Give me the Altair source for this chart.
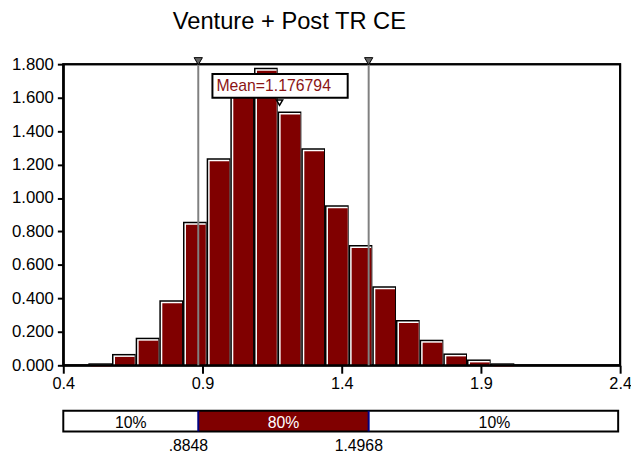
import altair as alt
import pandas as pd

# ---- data ----
bin_edges = [0.490, 0.575, 0.660, 0.745, 0.830, 0.915, 1.000, 1.085, 1.170, 1.255,
             1.340, 1.425, 1.510, 1.595, 1.680, 1.765, 1.850, 1.935, 2.020]
density = [0.012, 0.068, 0.165, 0.389, 0.858, 1.238, 1.66, 1.778, 1.517, 1.297,
           0.957, 0.719, 0.472, 0.271, 0.153, 0.071, 0.035, 0.012]
x_ticks = [0.4, 0.9, 1.4, 1.9, 2.4]
y_ticks = [0.0, 0.2, 0.4, 0.6, 0.8, 1.0, 1.2, 1.4, 1.6, 1.8]
pct_values = [0.8848, 1.4968]
pct_labels = [".8848", "1.4968"]
seg_bounds = [0.4, 0.8848, 1.4968, 2.4]
seg_labels = ["10%", "80%", "10%"]
seg_fill = ["white", "#800000", "white"]
seg_text = ["black", "white", "black"]
mean_value = 1.176794
mean_label = "Mean=1.176794"

FONT = "Liberation Sans"
RED = "#800000"

bars = pd.DataFrame({"lo": bin_edges[:-1], "hi": bin_edges[1:], "dens": density})
pct = pd.DataFrame({"pos": pct_values, "label": pct_labels})
segs = pd.DataFrame({
    "s0": seg_bounds[:-1], "s1": seg_bounds[1:],
    "mid": [(a + b) / 2 for a, b in zip(seg_bounds[:-1], seg_bounds[1:])],
    "label": seg_labels, "fill": seg_fill, "tcolor": seg_text,
})
mean_df = pd.DataFrame({"mean": [mean_value], "label": [mean_label]})
box_df = pd.DataFrame({"a": [seg_bounds[0]], "b": [seg_bounds[-1]]})

xscale = alt.Scale(domain=[0.4, 2.4], nice=False, zero=False)
yscale = alt.Scale(domain=[0, 1.8], nice=False)
xaxis = alt.Axis(values=x_ticks, format=".1f", title=None, grid=False,
                 domainColor="black", domainWidth=2, tickColor="black", tickWidth=2,
                 tickSize=8, labelPadding=3, labelFont=FONT, labelFontSize=16.5,
                 labelColor="black", labelFlush=False, labelOverlap=False)
yaxis = alt.Axis(values=y_ticks, format=".3f", title=None, grid=False,
                 domainColor="black", domainWidth=2, tickColor="black", tickWidth=2,
                 tickSize=6, labelPadding=4, labelFont=FONT, labelFontSize=17,
                 labelColor="black", labelOverlap=False)


def X(f):
    return alt.X(f, type="quantitative", scale=xscale, axis=xaxis)


def Y(f):
    return alt.Y(f, type="quantitative", scale=yscale, axis=yaxis)


def YD(v):
    return alt.Y(datum=v, type="quantitative", scale=yscale, axis=yaxis)


base_bars = alt.Chart(bars)
bar_black = base_bars.mark_rect(color="black").encode(
    x=X("lo"), x2="hi", y=Y("dens"), y2=alt.datum(0))
bar_white = base_bars.mark_rect(color="white", xOffset=1.5, x2Offset=-1, yOffset=1.5).encode(
    x=X("lo"), x2="hi", y=Y("dens"), y2=alt.datum(0))
bar_red = base_bars.mark_rect(color=RED, xOffset=3, x2Offset=-1, yOffset=3).encode(
    x=X("lo"), x2="hi", y=Y("dens"), y2=alt.datum(0))

frame = alt.Chart(box_df).mark_rect(fill=None, stroke="black", strokeWidth=2).encode(
    x=X("a"), x2="b", y=YD(1.8), y2=alt.datum(0))

pct_rules = alt.Chart(pct).mark_rule(color="#808080", strokeWidth=2).encode(
    x=X("pos"), y=YD(1.8), y2=alt.datum(0))
pct_tri = alt.Chart(pct).mark_point(shape="triangle-down", filled=True, fill="#666666",
                                    stroke="black", strokeWidth=1, size=70, opacity=1).encode(
    x=X("pos"), y=alt.value(-3))

mean_box = alt.Chart(mean_df).mark_rect(fill="white", stroke="black", strokeWidth=2,
                                        xOffset=-68, x2Offset=69).encode(
    x=X("mean"), x2="mean", y=alt.value(10), y2=alt.value(34))
mean_txt = alt.Chart(mean_df).mark_text(font=FONT, fontSize=16, color="#8B1414",
                                        dx=-6, align="center", baseline="middle").encode(
    x=X("mean"), y=alt.value(22), text="label")
mean_tri = alt.Chart(mean_df).mark_point(shape="triangle-down", filled=True, fill="white",
                                         stroke="black", strokeWidth=1.5, size=40, opacity=1).encode(
    x=X("mean"), y=alt.value(39))

seg_rect = alt.Chart(segs).mark_rect().encode(
    x=X("s0"), x2="s1", y=alt.value(351), y2=alt.value(372),
    fill=alt.Fill("fill:N", scale=None))
seg_box = alt.Chart(box_df).mark_rect(fill=None, stroke="black", strokeWidth=2, x2Offset=-2).encode(
    x=X("a"), x2="b", y=alt.value(351), y2=alt.value(372))
seg_div = alt.Chart(pct).mark_rule(color="#000080", strokeWidth=2).encode(
    x=X("pos"), y=alt.value(351), y2=alt.value(372))
seg_txt = alt.Chart(segs).mark_text(font=FONT, fontSize=16, baseline="middle").encode(
    x=X("mid"), y=alt.value(363), text="label", color=alt.Color("tcolor:N", scale=None))
pct_txt = alt.Chart(pct).mark_text(font=FONT, fontSize=16, baseline="middle", dx=-10).encode(
    x=X("pos"), y=alt.value(387), text="label")

chart = alt.layer(
    bar_black, bar_white, bar_red, frame, pct_rules, pct_tri, mean_box, mean_txt, mean_tri,
    seg_rect, seg_box, seg_div, seg_txt, pct_txt,
).properties(
    width=564, height=305,
    title=alt.TitleParams("Venture + Post TR CE", font=FONT, fontSize=24, fontWeight="normal",
                          color="black", anchor="middle", frame="group", dx=-53, offset=22),
    autosize=alt.AutoSizeParams(type="none"),
    padding={"left": 56, "top": 54, "right": 11, "bottom": 92},
).configure(background="white", view=alt.ViewConfig(stroke="black", strokeWidth=2))

chart.save("out.html", embed_options={"renderer": "svg", "actions": False})
